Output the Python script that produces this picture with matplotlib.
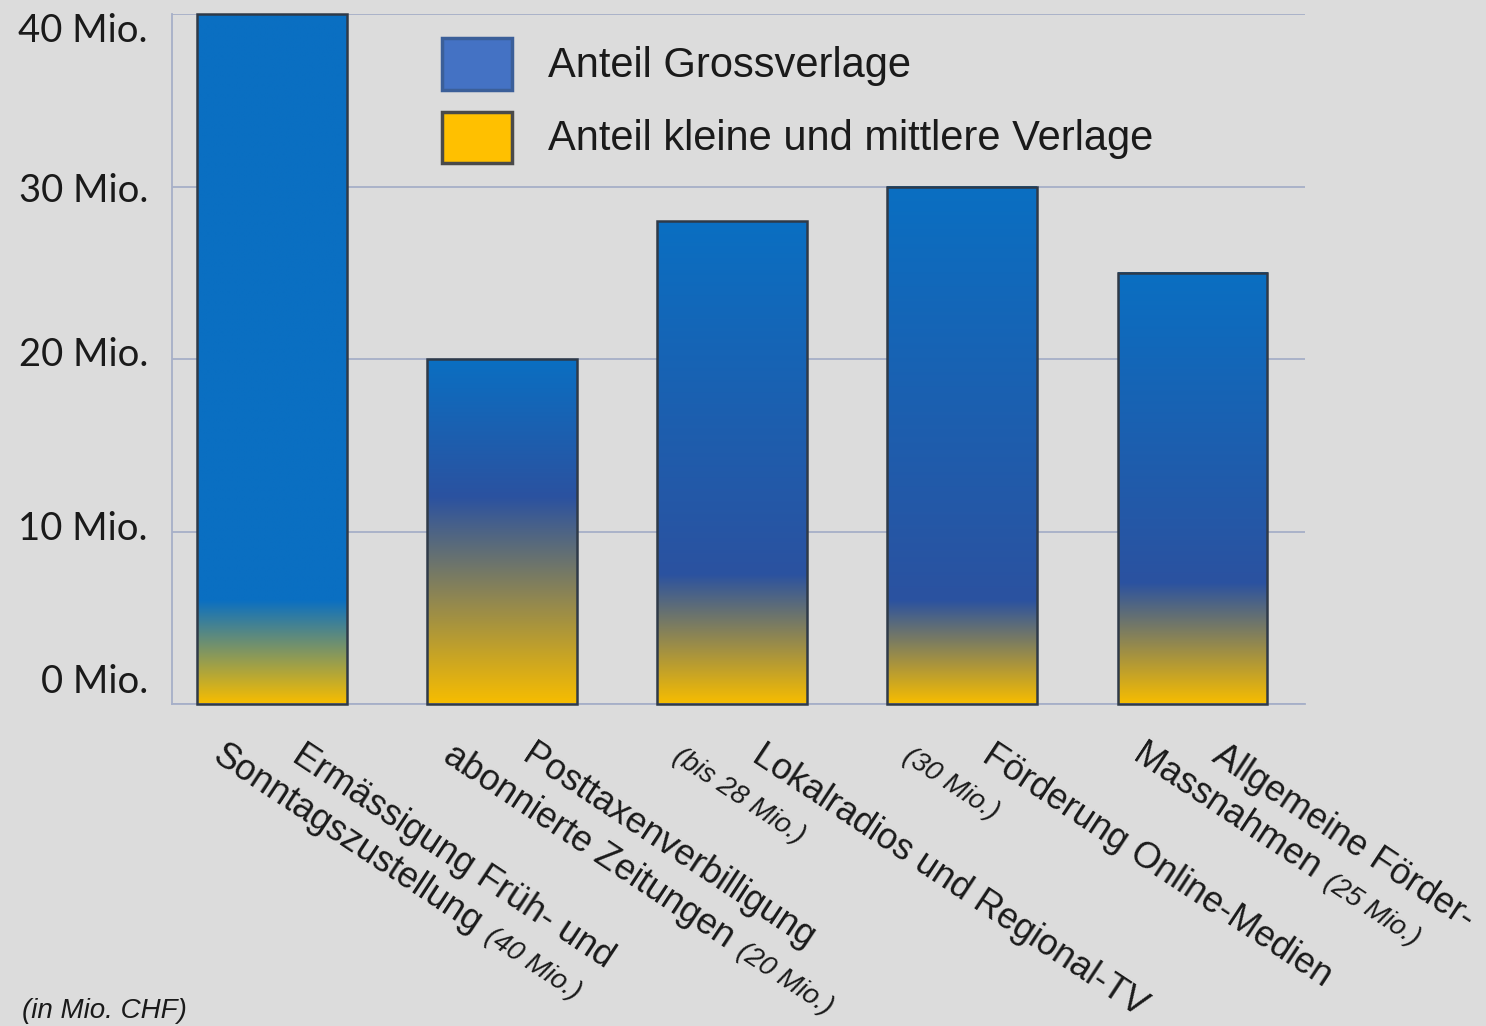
import numpy as np
import matplotlib.pyplot as plt
from matplotlib.colors import to_rgb
from matplotlib.patches import Rectangle
from matplotlib.font_manager import FontProperties

# Daten (in Mio. CHF)
zeile1 = ["Ermässigung Früh- und", "Posttaxenverbilligung", "Lokalradios und Regional-TV",
          "Förderung Online-Medien", "Allgemeine Förder-"]
zeile2 = ["Sonntagszustellung", "abonnierte Zeitungen", "", "", "Massnahmen"]
betrag_text = ["(40 Mio.)", "(20 Mio.)", "(bis 28 Mio.)", "(30 Mio.)", "(25 Mio.)"]
total = [40, 20, 28, 30, 25]
anteil_klein = [6, 12, 7.5, 6, 7]   # geschaetzt aus dem Farbverlauf
yticks = [0, 10, 20, 30, 40]
ytick_labels = ["0 Mio.", "10 Mio.", "20 Mio.", "30 Mio.", "40 Mio."]
legend_labels = ["Anteil Grossverlage", "Anteil kleine und mittlere Verlage"]

W, H = 1486, 1026
BG = "#dcdcdc"
GELB = "#f7bd00"
BLAU = "#0a6fc2"
MITTE = ["#0a6fc2", "#2b52a0", "#2b52a0", "#2b52a0", "#2b52a0"]
GRID = "#a6afc8"

fig = plt.figure(figsize=(W / 100, H / 100), dpi=100, facecolor=BG)
ax = fig.add_axes([172 / W, 1 - 704 / H, (1305 - 172) / W, (704 - 14) / H])
ax.set_facecolor(BG)

x = np.arange(len(total))
bars = ax.bar(x, total, width=0.65, facecolor="none", edgecolor="#2f3a48",
              linewidth=1.8, zorder=3, clip_on=False)

# Farbverlauf gelb -> blau in jedem Balken
for i, b in enumerate(bars):
    ys = np.linspace(0, total[i], 400)
    stops = [0, anteil_klein[i], total[i]]
    cols = np.array([to_rgb(GELB), to_rgb(MITTE[i]), to_rgb(BLAU)])
    grad = np.stack([np.interp(ys, stops, cols[:, k]) for k in range(3)], axis=-1)[:, None, :]
    ax.imshow(grad, extent=[b.get_x(), b.get_x() + b.get_width(), 0, total[i]],
              origin="lower", aspect="auto", zorder=2, interpolation="bilinear")

ax.set_xlim(-0.435, 4.49)
ax.set_ylim(0, 40)
ax.set_yticks(yticks)
ax.yaxis.grid(True, color=GRID, linewidth=1.3)
ax.set_axisbelow(True)
ax.tick_params(length=0, labelleft=False, labelbottom=False)
ax.set_xticks([])
for sp in ["top", "right"]:
    ax.spines[sp].set_visible(False)
for sp in ["left", "bottom"]:
    ax.spines[sp].set_color(GRID)
    ax.spines[sp].set_linewidth(1.3)

# y-Beschriftung (leicht versetzt wie im Original)
y_versatz = [22, 2, 4, -5, -17]
for v, lbl, off in zip(yticks, ytick_labels, y_versatz):
    ax.annotate(lbl, xy=(0, v), xycoords=("axes fraction", "data"), xytext=(-24, off),
                textcoords="offset pixels", ha="right", va="center",
                fontsize=27.5, family="Lato", color="#1a1a1a")

# schraege x-Beschriftung
ang = 33.5
c, s = np.cos(np.radians(ang)), np.sin(np.radians(ang))
renderer = fig.canvas.get_renderer()
fp_reg = FontProperties(family="Liberation Sans", size=26)
fp_it = FontProperties(family="Liberation Sans", size=20, style="italic")
txt_kw = dict(xycoords=("data", "axes fraction"), textcoords="offset pixels",
              rotation=-ang, rotation_mode="anchor", ha="left", va="baseline", color="#1a1a1a")
for i in range(len(total)):
    ax.annotate(zeile1[i], xy=(x[i], 0), xytext=(18, -56), fontproperties=fp_reg, **txt_kw)
    dx, dy = -61, -56
    if zeile2[i]:
        ax.annotate(zeile2[i], xy=(x[i], 0), xytext=(dx, dy), fontproperties=fp_reg, **txt_kw)
        w, _, _ = renderer.get_text_width_height_descent(zeile2[i], fp_reg, ismath=False)
        w += 12
        dx += w * c
        dy -= w * s
    ax.annotate(betrag_text[i], xy=(x[i], 0), xytext=(dx, dy), fontproperties=fp_it, **txt_kw)

# Legende
leg_farben = [("#4472c4", "#3b5f99"), ("#ffc000", "#4a4a4a")]
leg_y = [(38, 90, 77), (112, 163, 150)]
for (fc, ec), (y0, y1, yb), lbl in zip(leg_farben, leg_y, legend_labels):
    fig.add_artist(Rectangle((442 / W, 1 - y1 / H), 70 / W, (y1 - y0) / H,
                             facecolor=fc, edgecolor=ec, linewidth=2.5, transform=fig.transFigure))
    fig.text(548 / W, 1 - yb / H, lbl, fontsize=30, family="Liberation Sans",
             va="baseline", ha="left", color="#1a1a1a")

fig.text(22 / W, 1 - 1018 / H, "(in Mio. CHF)", fontsize=20, family="Liberation Sans",
         style="italic", va="baseline", ha="left", color="#1a1a1a")

fig.savefig("out.png", dpi=100, facecolor=BG)
